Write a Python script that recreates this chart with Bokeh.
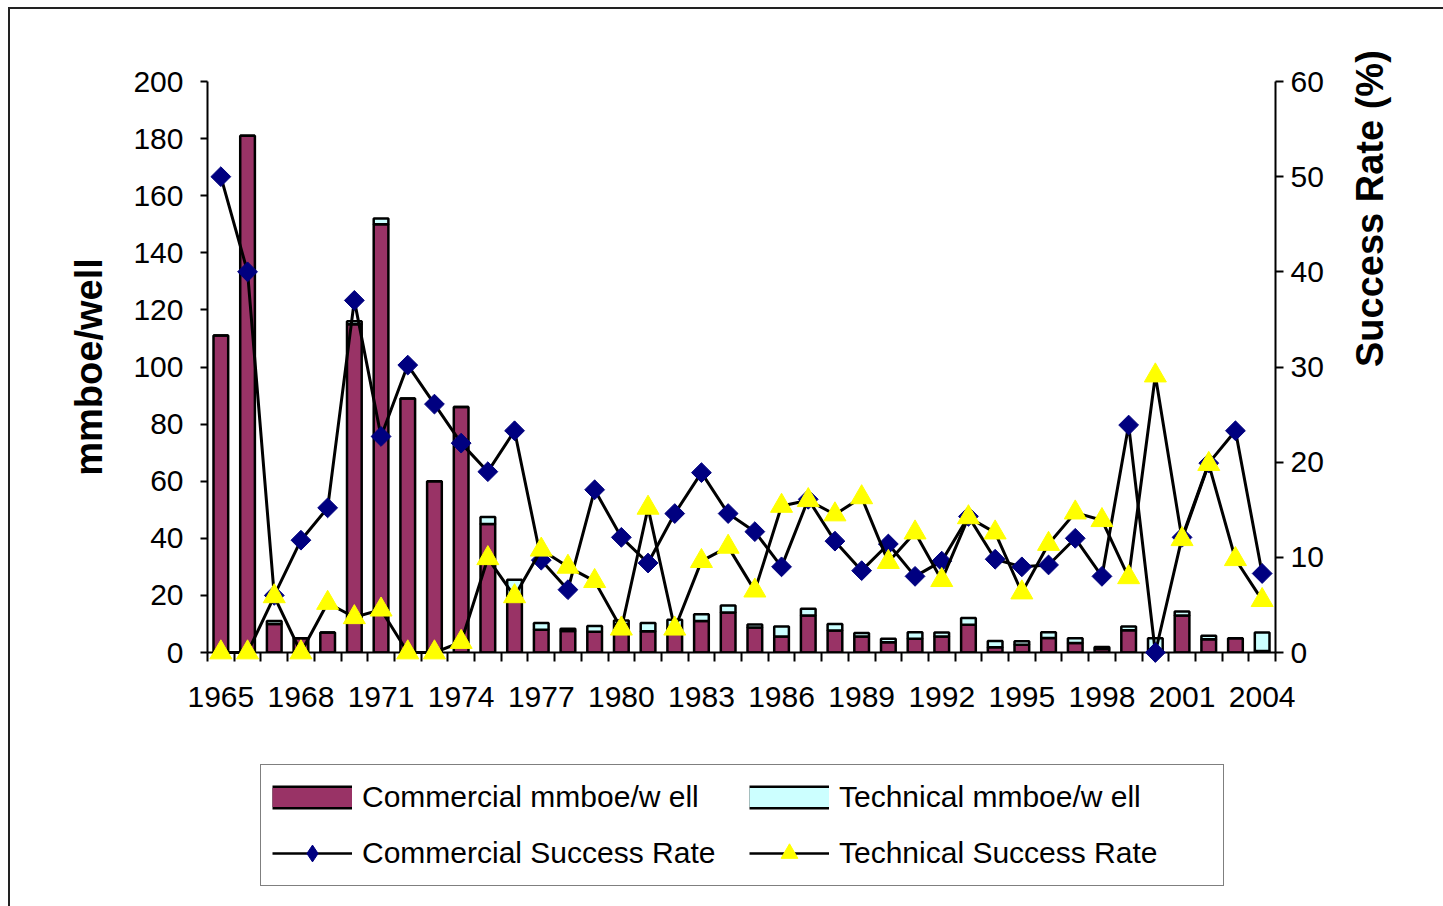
import numpy as np
from bokeh.plotting import figure
from bokeh.layouts import column
from bokeh.models import (Range1d, LinearAxis, FixedTicker, Legend, LegendItem,
                          ColumnDataSource)
from bokeh.embed import file_html
from bokeh.resources import INLINE

# ---------------- data ----------------
years = list(range(1965, 2005))
commercial_mmboe = [111, 181, 10, 5, 7, 115, 150, 89, 60, 86,
                    45, 18, 8, 7.5, 7.3, 10, 7.4, 8.5, 11, 14,
                    8.8, 5.6, 13, 7.7, 5.6, 3.6, 4.8, 5.6, 9.7, 1.8,
                    2.7, 5.1, 3.3, 1.2, 7.8, 0, 13, 4.6, 5, 0.5]
technical_mmboe = [0, 0, 1, 0, 0, 1, 2, 0, 0, 0,
                   2.5, 7.5, 2.3, 0.8, 2, 1.2, 2.9, 3, 2.4, 2.5,
                   1, 3.5, 2.3, 2.3, 1.2, 1.2, 2.3, 1.4, 2.4, 2.2,
                   1.2, 2, 1.7, 0.7, 1.3, 5, 1.4, 1.3, 0, 6.5]
commercial_rate = [50, 40, 6, 11.8, 15.2, 37, 22.7, 30.2, 26.1, 22.0,
                   19.0, 23.3, 9.7, 6.6, 17.1, 12.1, 9.4, 14.6, 18.9, 14.6,
                   12.7, 9.0, 16.1, 11.7, 8.6, 11.4, 8.0, 9.6, 14.3, 9.8,
                   9.0, 9.2, 12.0, 8.0, 23.9, 0, 12.1, 19.9, 23.3, 8.3]
technical_rate = [0, 0, 5.9, 0, 5.2, 3.7, 4.5, 0, 0, 1.1,
                  9.9, 5.9, 10.8, 9.0, 7.5, 2.5, 15.2, 2.5, 9.6, 11.1,
                  6.5, 15.4, 16.0, 14.5, 16.3, 9.5, 12.6, 7.6, 14.2, 12.6,
                  6.3, 11.4, 14.7, 13.9, 7.9, 29.1, 11.9, 19.8, 9.8, 5.5]
x_tick_years = list(range(1965, 2005, 3))
left_ticks = list(range(0, 201, 20))
right_ticks = list(range(0, 61, 10))
series_labels = ["Commercial mmboe/w ell", "Technical mmboe/w ell",
                 "Commercial Success Rate", "Technical Success Rate"]
left_title = "mmboe/well"
right_title = "Success Rate (%)"

FONT = "Liberation Sans"
MAROON = "#993366"
CYAN = "#CCFFFF"
NAVY = "#000080"
YELLOW = "#FFFF00"

src = ColumnDataSource(dict(
    year=years,
    com=commercial_mmboe,
    total=[c + t for c, t in zip(commercial_mmboe, technical_mmboe)],
    cr=commercial_rate,
    tr=technical_rate,
))

# ---------------- main chart ----------------
p = figure(width=1433, height=736, output_backend="svg", toolbar_location=None,
           x_range=Range1d(1964.5, 2004.5), y_range=Range1d(0, 200),
           min_border_left=197, min_border_right=168,
           min_border_top=72, min_border_bottom=93)
p.outline_line_color = None
p.xgrid.visible = False
p.ygrid.visible = False
p.background_fill_color = "white"
p.border_fill_color = "white"
p.extra_y_ranges = {"rate": Range1d(0, 60)}

# bars (stacked)
p.vbar(x="year", bottom=0, top="com", width=0.55, source=src,
       fill_color=MAROON, line_color="black", line_width=2.5)
p.vbar(x="year", bottom="com", top="total", width=0.55, source=src,
       fill_color=CYAN, line_color="black", line_width=2.5)

# lines + markers
p.line("year", "cr", source=src, y_range_name="rate",
       line_color="black", line_width=3, level="overlay")
p.scatter("year", "cr", source=src, y_range_name="rate", marker="square",
          angle=np.pi / 4, size=14, fill_color=NAVY, line_color=NAVY,
          level="overlay")
p.line("year", "tr", source=src, y_range_name="rate",
       line_color="black", line_width=3, level="overlay")
p.scatter("year", "tr", source=src, y_range_name="rate", marker="triangle",
          size=22, fill_color=YELLOW, line_color=YELLOW, level="overlay")

# x axis
xa = p.xaxis[0]
xa.ticker = FixedTicker(ticks=x_tick_years,
                        minor_ticks=[y - 0.5 for y in years] + [years[-1] + 0.5])
xa.major_tick_line_color = None
xa.major_tick_out = 0
xa.major_tick_in = 0
xa.minor_tick_line_color = "black"
xa.minor_tick_line_width = 2
xa.minor_tick_out = 9
xa.minor_tick_in = 0
xa.major_label_standoff = 25
xa.axis_line_width = 2
xa.axis_line_color = "black"

# left axis
ya = p.yaxis[0]
ya.ticker = FixedTicker(ticks=left_ticks)
ya.major_tick_out = 7
ya.major_tick_in = 0
ya.minor_tick_line_color = None
ya.major_tick_line_width = 2
ya.axis_line_width = 2
ya.major_label_standoff = 17
ya.axis_label = left_title
ya.axis_label_standoff = 20

# right axis (ticks + labels)
ra = LinearAxis(y_range_name="rate", ticker=FixedTicker(ticks=right_ticks))
ra.major_tick_out = 8
ra.major_tick_in = 0
ra.minor_tick_line_color = None
ra.major_tick_line_width = 2
ra.axis_line_width = 2
ra.major_label_standoff = 7
p.add_layout(ra, "right")

# right title carried by a bare axis so it can be placed along the side
rt = LinearAxis(y_range_name="rate", ticker=FixedTicker(ticks=[]),
                bounds=(0, 27.8))
rt.axis_line_color = None
rt.major_tick_line_color = None
rt.minor_tick_line_color = None
rt.major_tick_out = 0
rt.major_tick_in = 0
rt.minor_tick_out = 0
rt.minor_tick_in = 0
rt.major_label_standoff = 0
rt.axis_label = right_title
rt.axis_label_standoff = 43
if hasattr(rt, "axis_label_orientation"):
    rt.axis_label_orientation = np.pi / 2
p.add_layout(rt, "right")

for ax in (xa, ya, ra):
    ax.major_label_text_font = FONT
    ax.major_label_text_font_size = "30px"
    ax.major_label_text_color = "black"
for ax in (ya, rt):
    ax.axis_label_text_font = FONT
    ax.axis_label_text_font_style = "bold"
    ax.axis_label_text_font_size = "38px"
    ax.axis_label_text_color = "black"

# ---------------- legend strip ----------------
# legend swatches: styled renderers of the same data, kept outside this strip's view
q = figure(width=1433, height=161, output_backend="svg", toolbar_location=None,
           x_range=Range1d(0, 1), y_range=Range1d(0, 1),
           x_axis_location=None, y_axis_location=None, min_border=0)
q.outline_line_color = None
q.grid.visible = False
q.background_fill_color = "white"
q.border_fill_color = "white"

sw_c_edge = q.line("year", "com", source=src, line_color="black", line_width=24)
sw_c_fill = q.line("year", "com", source=src, line_color=MAROON, line_width=19)
sw_t_edge = q.line("year", "total", source=src, line_color="black", line_width=24)
sw_t_fill = q.line("year", "total", source=src, line_color=CYAN, line_width=19)
sw_cr_line = q.line("year", "cr", source=src, line_color="black", line_width=2.5)
sw_cr_mark = q.scatter("year", "cr", source=src, marker="diamond", size=16,
                       fill_color=NAVY, line_color=NAVY)
sw_tr_line = q.line("year", "tr", source=src, line_color="black", line_width=2.5)
sw_tr_mark = q.scatter("year", "tr", source=src, marker="triangle", size=16,
                       fill_color=YELLOW, line_color=YELLOW)

legend = Legend(items=[
    LegendItem(label=series_labels[0], renderers=[sw_c_edge, sw_c_fill]),
    LegendItem(label=series_labels[1], renderers=[sw_t_edge, sw_t_fill]),
    LegendItem(label=series_labels[2], renderers=[sw_cr_line, sw_cr_mark]),
    LegendItem(label=series_labels[3], renderers=[sw_tr_line, sw_tr_mark]),
], location=(53, 20), orientation="horizontal", ncols=2)
legend.label_text_font = FONT
legend.label_text_font_size = "30px"
legend.label_text_color = "black"
legend.glyph_width = 80
legend.glyph_height = 42
legend.label_standoff = 10
legend.label_width = 373
legend.spacing = 14
legend.padding = 11
legend.margin = 0
legend.border_line_color = "black"
legend.border_line_width = 1
legend.background_fill_color = "white"
legend.background_fill_alpha = 1
q.add_layout(legend, "center")

layout = column(p, q, spacing=0,
                styles={"margin-left": "8px", "margin-top": "7px",
                        "border-top": "2px solid #222",
                        "border-left": "2px solid #222"})

open("out.html", "w").write(file_html(layout, INLINE))
